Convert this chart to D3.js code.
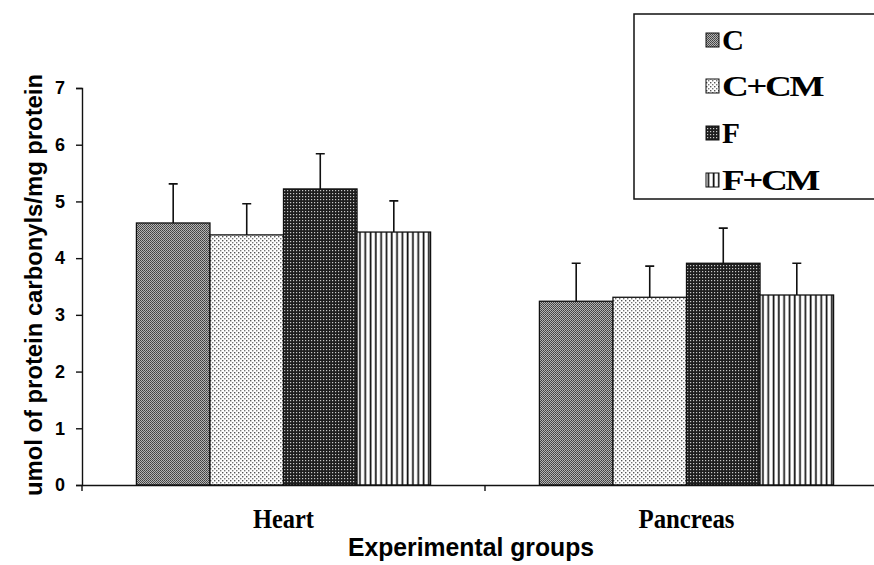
<!DOCTYPE html>
<html>
<head>
<meta charset="utf-8">
<script src="https://cdn.jsdelivr.net/npm/d3@7"></script>
<style>
  body { margin: 0; background: #fff; }
  svg { display: block; }
</style>
</head>
<body>
<script>
// Chart data
var categories = ["Heart", "Pancreas"];
var groups = ["C", "C+CM", "F", "F+CM"];
var heartMeans = [4.62, 4.41, 5.22, 4.46];
var heartErrors = [0.69, 0.55, 0.62, 0.55];
var pancreasMeans = [3.24, 3.31, 3.91, 3.35];
var pancreasErrors = [0.67, 0.55, 0.62, 0.56];
var yTickValues = [0, 1, 2, 3, 4, 5, 6, 7];
var yTitle = "umol of protein carbonyls/mg protein";
var xTitle = "Experimental groups";

var svgWidth = 874;
var svgHeight = 565;

var svg = d3.select("body")
  .append("svg")
  .attr("width", svgWidth)
  .attr("height", svgHeight);

// Fill patterns, one per group
var defs = svg.append("defs");

var pC = defs.append("pattern").attr("id", "pat-C")
  .attr("patternUnits", "userSpaceOnUse").attr("width", 2).attr("height", 2);
pC.append("rect").attr("width", 2).attr("height", 2).attr("fill", "#b4b4b4");
pC.append("rect").attr("width", 1).attr("height", 1).attr("fill", "#404040");
pC.append("rect").attr("x", 1).attr("y", 1).attr("width", 1).attr("height", 1).attr("fill", "#505050");

var pCCM = defs.append("pattern").attr("id", "pat-CCM")
  .attr("patternUnits", "userSpaceOnUse").attr("width", 4).attr("height", 4);
pCCM.append("rect").attr("width", 4).attr("height", 4).attr("fill", "#fff");
pCCM.append("rect").attr("width", 1.4).attr("height", 1.4).attr("fill", "#555");
pCCM.append("rect").attr("x", 2).attr("y", 2).attr("width", 1.4).attr("height", 1.4).attr("fill", "#777");

var pF = defs.append("pattern").attr("id", "pat-F")
  .attr("patternUnits", "userSpaceOnUse").attr("width", 3).attr("height", 3);
pF.append("rect").attr("width", 3).attr("height", 3).attr("fill", "#1e1e1e");
pF.append("rect").attr("x", 1).attr("y", 1).attr("width", 1.2).attr("height", 1.2).attr("fill", "#c8c8c8");

var pFCM = defs.append("pattern").attr("id", "pat-FCM")
  .attr("patternUnits", "userSpaceOnUse").attr("width", 5.3).attr("height", 4);
pFCM.append("rect").attr("width", 5.3).attr("height", 4).attr("fill", "#fff");
pFCM.append("rect").attr("x", 1.5).attr("width", 1.7).attr("height", 4).attr("fill", "#111");

var fills = d3.scaleOrdinal()
  .domain(groups)
  .range(["url(#pat-C)", "url(#pat-CCM)", "url(#pat-F)", "url(#pat-FCM)"]);

// Scales
var xScale = d3.scaleBand()
  .domain(categories)
  .range([82, 888])
  .padding(0);

var x1 = d3.scaleBand()
  .domain(groups)
  .range([0, xScale.bandwidth()])
  .paddingInner(0)
  .paddingOuter(0.74);

var yScale = d3.scaleLinear()
  .domain([0, 7])
  .range([485, 88]);

var tableData = categories.map(function(c, i) {
  var means = i === 0 ? heartMeans : pancreasMeans;
  var errs = i === 0 ? heartErrors : pancreasErrors;
  return groups.map(function(g, j) {
    return { category: c, group: g, value: means[j], err: errs[j] };
  });
});

// Bars
var groupsG = svg.selectAll(".cat")
  .data(tableData)
  .enter()
  .append("g")
  .attr("class", "cat")
  .attr("transform", (d, i) => `translate(${xScale(categories[i])},0)`);

groupsG.selectAll(".bar")
  .data(d => d)
  .enter()
  .append("rect")
  .attr("class", "bar")
  .attr("x", d => x1(d.group))
  .attr("y", d => yScale(d.value))
  .attr("width", x1.bandwidth())
  .attr("height", d => yScale(0) - yScale(d.value))
  .attr("fill", d => fills(d.group))
  .attr("stroke", "#111")
  .attr("stroke-width", 1.3);

// Error bars (upper half only)
groupsG.selectAll(".err")
  .data(d => d)
  .enter()
  .append("path")
  .attr("class", "err")
  .attr("fill", "none")
  .attr("stroke", "#111")
  .attr("stroke-width", 1.6)
  .attr("d", function(d) {
    var cx = x1(d.group) + x1.bandwidth() / 2;
    var y0 = yScale(d.value);
    var y1 = yScale(d.value + d.err);
    return `M${cx},${y0}V${y1}M${cx - 4.5},${y1}H${cx + 4.5}`;
  });

// Y axis
var yAxis = d3.axisLeft(yScale)
  .tickValues(yTickValues)
  .tickFormat(d3.format("d"))
  .tickSize(6)
  .tickPadding(11);

var yAxisG = svg.append("g")
  .attr("transform", "translate(82,0)")
  .call(yAxis);
yAxisG.select(".domain").attr("stroke", "#111").attr("stroke-width", 1.4);
yAxisG.selectAll(".tick line").attr("stroke", "#111").attr("stroke-width", 1.4);
yAxisG.selectAll("text")
  .attr("font-family", "Liberation Sans, Arial, sans-serif")
  .attr("font-weight", "bold")
  .attr("font-size", 18)
  .attr("fill", "#000");

// X axis: labels at band centers, ticks at band edges
var xAxis = d3.axisBottom(xScale).tickSize(0).tickSizeOuter(0);
var xAxisG = svg.append("g")
  .attr("transform", `translate(0,${yScale(0)})`)
  .call(xAxis);
xAxisG.select(".domain").attr("stroke", "#111").attr("stroke-width", 1.4);
xAxisG.selectAll("text")
  .attr("y", 43)
  .attr("dy", 0)
  .attr("font-family", "Liberation Serif, Times New Roman, serif")
  .attr("font-weight", "bold")
  .attr("font-size", 27)
  .attr("textLength", (d, i) => [61, 96][i])
  .attr("lengthAdjust", "spacingAndGlyphs")
  .attr("fill", "#000");

var edges = categories.map(c => xScale(c)).concat([xScale.range()[1]]);
xAxisG.selectAll(".edge")
  .data(edges)
  .enter()
  .append("line")
  .attr("class", "edge")
  .attr("x1", d => d).attr("x2", d => d)
  .attr("y1", 0).attr("y2", 6)
  .attr("stroke", "#111")
  .attr("stroke-width", 1.4);

// Axis titles
svg.append("text")
  .attr("transform", "translate(34,285) rotate(-90)")
  .attr("text-anchor", "middle")
  .attr("dy", "0.35em")
  .attr("font-family", "Liberation Sans, Arial, sans-serif")
  .attr("font-weight", "bold")
  .attr("font-size", 24)
  .attr("textLength", 422)
  .attr("lengthAdjust", "spacingAndGlyphs")
  .text(yTitle);

svg.append("text")
  .attr("x", 471)
  .attr("y", 556)
  .attr("text-anchor", "middle")
  .attr("font-family", "Liberation Sans, Arial, sans-serif")
  .attr("font-weight", "bold")
  .attr("font-size", 25)
  .attr("textLength", 246)
  .attr("lengthAdjust", "spacingAndGlyphs")
  .text(xTitle);

// Legend
var legend = svg.append("g");
legend.append("rect")
  .attr("x", 634)
  .attr("y", 14)
  .attr("width", 260)
  .attr("height", 185)
  .attr("fill", "#fff")
  .attr("stroke", "#111")
  .attr("stroke-width", 1.5);

var legendRows = [40, 86, 133, 180];
var legendWidths = [20, 100, 16, 96];

var items = legend.selectAll(".item")
  .data(groups)
  .enter()
  .append("g")
  .attr("class", "item")
  .attr("transform", (d, i) => `translate(706,${legendRows[i]})`);

items.append("rect")
  .attr("x", 0)
  .attr("y", -7)
  .attr("width", 13)
  .attr("height", 14)
  .attr("fill", d => fills(d))
  .attr("stroke", "#111")
  .attr("stroke-width", 1);

items.append("text")
  .attr("x", 16)
  .attr("y", 10)
  .attr("font-family", "Liberation Serif, Times New Roman, serif")
  .attr("font-weight", "bold")
  .attr("font-size", 30)
  .attr("letter-spacing", -2)
  .attr("textLength", (d, i) => legendWidths[i])
  .attr("lengthAdjust", "spacingAndGlyphs")
  .text(d => d);
</script>
</body>
</html>
